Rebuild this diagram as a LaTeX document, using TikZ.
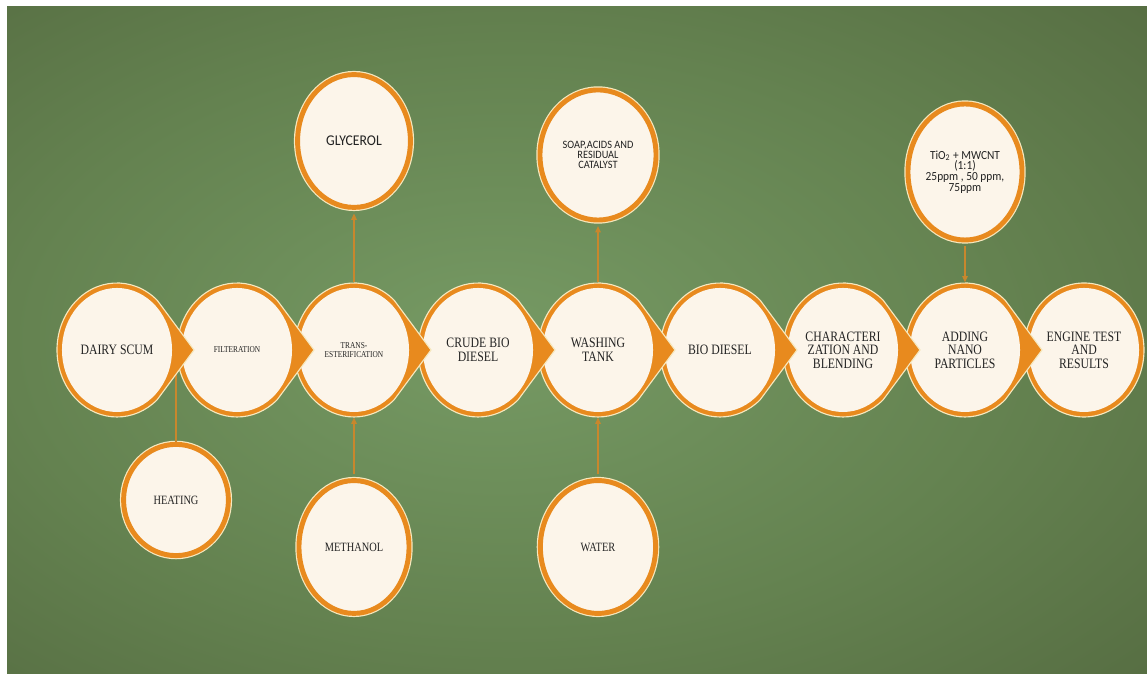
\documentclass[tikz,border=0pt]{standalone}
\usepackage{fontspec}
\setmainfont{Liberation Serif}[FakeStretch=0.82]
\newfontfamily\calib{Carlito}[FakeStretch=0.92]
\usepackage{tikz}
\usetikzlibrary{
    calc,
    arrows.meta,
    shapes.geometric,
}
\definecolor{bgin}{RGB}{118,154,100}
\definecolor{bgmid}{RGB}{100,130,80}
\definecolor{bgdark}{RGB}{80,100,60}
\definecolor{bgout}{RGB}{72,88,52}
\definecolor{ring}{RGB}{232,138,30}
\definecolor{rim}{RGB}{246,232,190}
\definecolor{cream}{RGB}{252,245,234}
\definecolor{wire}{RGB}{200,135,45}
\definecolor{ink}{RGB}{35,35,35}
\pgfdeclareradialshading{greenglow}{\pgfpoint{-4bp}{0bp}}{%
    color(0bp)=(bgin); color(22bp)=(bgmid); color(45bp)=(bgdark); color(70bp)=(bgout); color(80bp)=(bgout)}

\newcommand\bigfont{\fontsize{10.2}{9.6}\selectfont}
\newcommand\tinyfont{\fontsize{6.4}{6.8}\selectfont}
\newcommand\sidefont{\fontsize{9}{10}\selectfont}
\newcommand\calfont{\calib\fontsize{10.6}{10}\selectfont}
\newcommand\calsmall{\calib\fontsize{8}{7}\selectfont}
\newcommand\calmix{\calib\fontsize{8.8}{7.6}\selectfont}

\tikzset{
    stage/.style={ellipse,fill=cream,inner sep=0pt,minimum width=2.75cm,minimum height=3.1cm,
        align=center,text=ink},
    tear/.style={fill=ring,draw=rim,line width=0.8pt},
    side/.style={ellipse,fill=cream,draw=ring,line width=3.5pt,inner sep=0pt,
        preaction={draw=rim,line width=5.2pt},align=center,text=ink},
    feed/.style={draw=wire,line width=0.75pt,-{Triangle[length=4.5pt,width=4pt]},
        shorten <=3.8pt,shorten >=2.6pt},
    feedin/.style={feed,shorten <=2.6pt,shorten >=3.8pt},
}

\begin{document}
\begin{tikzpicture}[x=0.025cm,y=0.025cm]
\useasboundingbox (0,0) rectangle (1147,674);
\fill[white] (0,0) rectangle (1147,674);
\shade[shading=greenglow] (7,0) rectangle (1147,667);

% side inputs and outputs
\node[side,font=\sidefont,minimum width=2.62cm,minimum height=2.78cm] (heat) at (176,174) {HEATING};
\node[side,font=\calfont,minimum width=2.82cm,minimum height=3.32cm] (glyc) at (354,533) {GLYCEROL};
\node[side,font=\sidefont,minimum width=2.75cm,minimum height=3.32cm] (meth) at (354,127) {METHANOL};
\node[side,font=\calsmall,minimum width=2.9cm,minimum height=3.25cm] (soap) at (598,519) {SOAP,ACIDS AND\\RESIDUAL\\CATALYST};
\node[side,font=\sidefont,minimum width=2.88cm,minimum height=3.32cm] (water) at (598,127) {WATER};
\node[side,font=\calmix,minimum width=2.85cm,minimum height=3.4cm] (tio) at (965,502) {TiO\textsubscript{2} + MWCNT\\(1:1)\\25ppm , 50 ppm,\\75ppm};

\coordinate (joint) at (176,324);
\draw[draw=wire,line width=0.75pt] (heat) -- (joint);

% process chain, drawn from the right so each tip lies on top
\filldraw[tear] (1084,324) ellipse[x radius=60,y radius=67];
\node[stage,font=\bigfont] (engine) at (1084,324) {ENGINE TEST\\AND\\RESULTS};

\foreach \x/\nm/\fs/\txt in {965/nano/\bigfont/{ADDING\\NANO\\PARTICLES},
    843/blend/\bigfont/{CHARACTERI\\ZATION AND\\BLENDING},
    720/bio/\bigfont/{BIO DIESEL},
    598/wash/\bigfont/{WASHING\\TANK},
    478/crude/\bigfont/{CRUDE BIO\\DIESEL},
    354/trans/\tinyfont/{TRANS-\\ESTERIFICATION},
    237/filt/\tinyfont/{FILTERATION},
    117/dairy/\bigfont/{DAIRY SCUM}} {
    \filldraw[tear] (\x+77,324) -- ($(\x,324)+(48:60 and 67)$)
        arc[start angle=48,end angle=312,x radius=60,y radius=67] -- cycle;
    \node[stage,font=\fs] (\nm) at (\x,324) {\txt};
}

\draw[feed] (trans) -- (glyc);
\draw[feed] (wash) -- (soap);
\draw[feedin] (meth) -- (trans);
\draw[feedin] (water) -- (wash);
\draw[feedin] (tio) -- (nano);
\end{tikzpicture}
\end{document}
